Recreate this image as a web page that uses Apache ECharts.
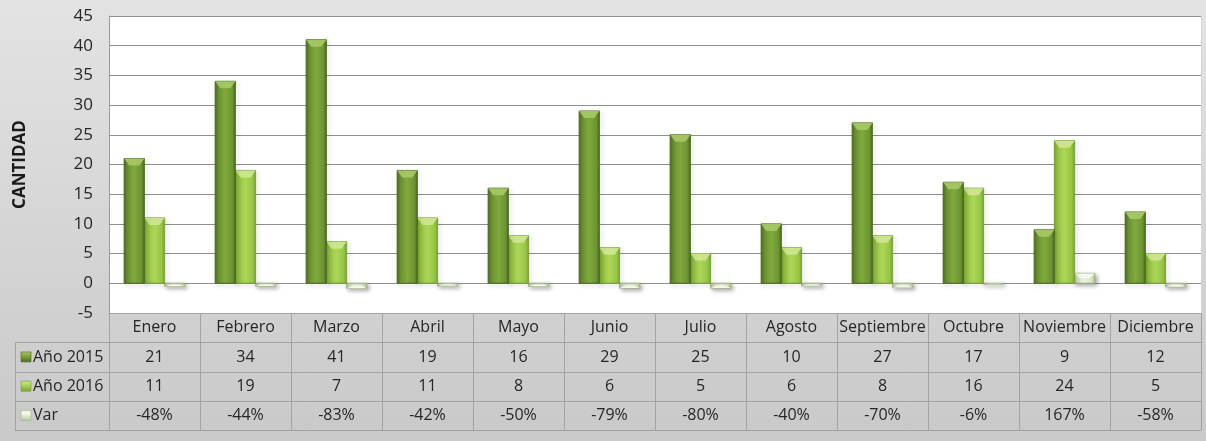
<!DOCTYPE html>
<html>
<head>
<meta charset="utf-8">
<script src="https://cdn.jsdelivr.net/npm/echarts@6/dist/echarts.min.js"></script>
<style>
  html, body { margin: 0; padding: 0; }
  #main { width: 1206px; height: 441px; }
</style>
</head>
<body>
<div id="main"></div>
<script>
// datos
const months = ['Enero', 'Febrero', 'Marzo', 'Abril', 'Mayo', 'Junio', 'Julio', 'Agosto', 'Septiembre', 'Octubre', 'Noviembre', 'Diciembre'];
const seriesNames = ['Año 2015', 'Año 2016', 'Var'];
const y2015 = [21, 34, 41, 19, 16, 29, 25, 10, 27, 17, 9, 12];
const y2016 = [11, 19, 7, 11, 8, 6, 5, 6, 8, 16, 24, 5];
const varPct = [-0.48, -0.44, -0.83, -0.42, -0.50, -0.79, -0.80, -0.40, -0.70, -0.06, 1.67, -0.58];
const yMin = -5, yMax = 45, yStep = 5;

const FONT = 'Open Sans';
const gridL = 109, gridR = 5, gridT = 16, gridB = 128;
const rowH = 29.3;

// colores (borde, medio, claro, tapa, linea)
const looks = [
    { edge: '#4d6a21', mid: '#6c9431', light: '#80a93d', top: '#a9ca66', stroke: '#4b6621' },
    { edge: '#79a432', mid: '#98c545', light: '#acd657', top: '#d0e893', stroke: '#769c35' },
    { edge: '#b4c596', mid: '#dbe6c4', light: '#eef4e2', top: '#f8fbf1', stroke: '#9fb482' }
];

function barRenderer(idx) {
    const lk = looks[idx];
    return function (params, api) {
        const cat = api.value(0);
        const v = api.value(1);
        const base = api.coord([cat, 0]);
        const tip = api.coord([cat, v]);
        const band = api.size([1, 0])[0];
        const w = band * 0.222;
        const x = base[0] + (idx - 1.5) * w;
        const y = Math.min(base[1], tip[1]);
        const h = Math.max(Math.abs(base[1] - tip[1]), 1);
        const d = Math.min(7, h / 2);
        const inset = Math.min(5, w / 4);
        const capY = v >= 0 ? y : y + h;
        const capDir = v >= 0 ? 1 : -1;
        return {
            type: 'group',
            children: [
                {
                    type: 'rect',
                    shape: { x: x, y: y, width: w, height: h },
                    style: {
                        fill: new echarts.graphic.LinearGradient(0, 0, 1, 0, [
                            { offset: 0, color: lk.edge },
                            { offset: 0.15, color: lk.mid },
                            { offset: 0.5, color: lk.light },
                            { offset: 0.85, color: lk.mid },
                            { offset: 1, color: lk.edge }
                        ]),
                        stroke: lk.stroke,
                        lineWidth: 0.6,
                        shadowBlur: 4,
                        shadowOffsetX: 2,
                        shadowOffsetY: 2,
                        shadowColor: 'rgba(0,0,0,0.35)'
                    }
                },
                {
                    type: 'polygon',
                    shape: {
                        points: [
                            [x, capY], [x + w, capY],
                            [x + w - inset, capY + capDir * d], [x + inset, capY + capDir * d]
                        ]
                    },
                    style: { fill: lk.top, opacity: 0.9 }
                }
            ]
        };
    };
}

const allValues = [y2015, y2016, varPct];

const chart = echarts.init(document.getElementById('main'));

const option = {
    animation: false,
    backgroundColor: new echarts.graphic.LinearGradient(0, 0, 0, 1, [
        { offset: 0, color: '#e3e3e3' },
        { offset: 1, color: '#c9c9c9' }
    ]),
    textStyle: { fontFamily: FONT },
    grid: {
        left: gridL, right: gridR, top: gridT, bottom: gridB,
        show: true, backgroundColor: '#ffffff', borderWidth: 0
    },
    xAxis: {
        type: 'category',
        data: months,
        axisLine: { onZero: false, lineStyle: { color: '#a3a3a3' } },
        axisTick: { show: true, inside: false, length: rowH * 4, interval: 0, lineStyle: { color: '#a3a3a3' } },
        axisLabel: {
            interval: 0, margin: rowH / 2, verticalAlign: 'middle',
            color: '#262626', fontSize: 16, fontFamily: FONT
        },
        splitLine: { show: false }
    },
    yAxis: {
        type: 'value',
        min: yMin, max: yMax, interval: yStep,
        name: 'CANTIDAD',
        nameLocation: 'middle',
        nameRotate: 90,
        nameGap: 80,
        nameTextStyle: { fontSize: 17, fontWeight: 'bold', color: '#1a1a1a', fontFamily: FONT },
        axisLine: { show: true, lineStyle: { color: '#9a9a9a' } },
        axisTick: { show: false },
        axisLabel: { color: '#262626', fontSize: 17, margin: 16, fontFamily: FONT },
        splitLine: { lineStyle: { color: '#8f8f8f', width: 1 } }
    },
    series: allValues.map((vals, i) => ({
        type: 'custom',
        name: seriesNames[i],
        renderItem: barRenderer(i),
        encode: { x: 0, y: 1 },
        data: vals.map((v, k) => [k, v]),
        z: 3 - i
    }))
};
chart.setOption(option);

// tabla de datos bajo el eje
function fmt(rowIdx, v) {
    if (rowIdx === 2) return Math.round(v * 100) + '%';
    return String(v);
}

const W = 1206;
const tableTop = chart.convertToPixel({ yAxisIndex: 0 }, yMin);
const rightX = W - gridR;
const leftX = 15;
const graphics = [];

for (let r = 1; r <= 4; r++) {
    const ly = Math.round(tableTop + r * rowH) + 0.5;
    graphics.push({
        type: 'line', silent: true,
        shape: { x1: leftX, y1: ly, x2: rightX, y2: ly },
        style: { stroke: '#a3a3a3', lineWidth: 1 }
    });
}
graphics.push({
    type: 'line', silent: true,
    shape: { x1: leftX + 0.5, y1: Math.round(tableTop + rowH) + 0.5, x2: leftX + 0.5, y2: Math.round(tableTop + 4 * rowH) + 0.5 },
    style: { stroke: '#a3a3a3', lineWidth: 1 }
});
graphics.push({
    type: 'line', silent: true,
    shape: { x1: rightX + 0.5, y1: gridT, x2: rightX + 0.5, y2: tableTop },
    style: { stroke: '#d6d6d6', lineWidth: 1 }
});

allValues.forEach((vals, r) => {
    const cy = tableTop + rowH * (r + 1.5);
    const lk = looks[r];
    graphics.push({
        type: 'rect', silent: true,
        shape: { x: 21, y: cy - 5, width: 10, height: 10 },
        style: {
            fill: new echarts.graphic.LinearGradient(0, 0, 0, 1, [
                { offset: 0, color: lk.top },
                { offset: 0.4, color: lk.light },
                { offset: 1, color: lk.edge }
            ]),
            stroke: lk.stroke, lineWidth: 0.6
        }
    });
    graphics.push({
        type: 'text', silent: true,
        x: 33, y: cy,
        style: { text: seriesNames[r], fill: '#262626', fontSize: 16, fontFamily: FONT, verticalAlign: 'middle' }
    });
    vals.forEach((v, k) => {
        const cx = chart.convertToPixel({ xAxisIndex: 0 }, k);
        graphics.push({
            type: 'text', silent: true,
            x: cx, y: cy,
            style: { text: fmt(r, v), fill: '#262626', fontSize: 16, fontFamily: FONT, align: 'center', verticalAlign: 'middle' }
        });
    });
});

chart.setOption({ graphic: graphics });
</script>
</body>
</html>
